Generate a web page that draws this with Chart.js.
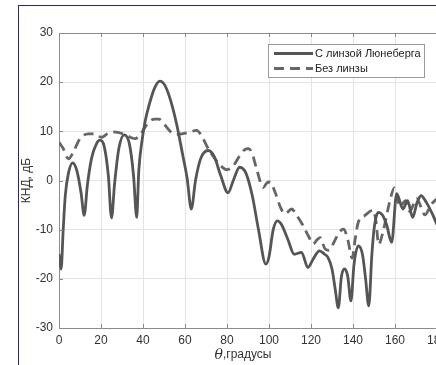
<!DOCTYPE html>
<html>
<head>
<meta charset="utf-8">
<script src="https://cdn.jsdelivr.net/npm/chart.js@4.4.1/dist/chart.umd.min.js"></script>
<style>
    html, body { margin: 0; padding: 0; background: #fff; overflow: hidden; }
    #wrap { position: relative; width: 436px; height: 365px; overflow: hidden; }
    #frame { position: absolute; left: 18px; top: 5px; width: 1000px; height: 1000px; border: 1px solid #26267a; }
    #box { position: absolute; left: 0; top: 0; width: 460px; height: 365px; }
</style>
</head>
<body>
<div id="wrap">
    <div id="frame"></div>
    <div id="box"><canvas id="knd"></canvas></div>
</div>
<script>
'use strict';

// angle, degrees / directivity, dB — with the Luneburg lens
const thetaLens = [0, 1, 2, 3, 4.5, 6.5, 8.5, 10.5, 12, 13.5, 15.5, 18, 19.5, 21.5, 23.5, 25, 26.5, 28.5, 31, 33.5,
    35.5, 37, 38, 39.5, 41, 43, 45.5, 48, 50.5, 53, 56, 59, 61, 63, 65, 67.5, 71, 74, 77, 80.5, 83,
    86, 89, 92, 95, 98.5, 100, 102, 104, 106, 109, 112, 115.5, 118.5, 121, 124, 126.5, 128, 130, 131.5, 133,
    134.5, 136, 137.5, 139, 140.5, 142.5, 144.5, 146, 147.5, 149, 150, 152, 154, 156, 158.4, 160.8, 163.8, 166, 168.4, 170.5,
    172.4, 175, 178, 180];
const kndLens = [-15, -18, -10, -3, 1.5, 3.6, 2, -2.5, -7.1, -1, 4.5, 7.6, 8.2, 7, 1, -7.6, -0.5, 6.5, 9.3, 7.5,
    1, -7.5, 2, 8, 12, 15.5, 18.8, 20.2, 19.3, 16.5, 11.5, 5, 0.5, -5.8, 0, 4.5, 6.1, 4.8, 1, -2.5, 0,
    2.7, 1.5, -3, -10, -17, -15.5, -10, -8.2, -9, -12, -15, -14.6, -17.7, -16, -14.3, -15, -15.6, -18, -22, -25.9,
    -19.5, -18, -19.5, -24.5, -17, -13.3, -15, -20, -25.5, -15, -10, -6.5, -7, -9, -12.6, -2.7, -5.8, -4.1, -7.5, -4.5,
    -3.1, -4.5, -7, -9];

// without the lens
const thetaBare = [0, 2, 4.5, 7, 10, 14, 17, 20.3, 23, 25.5, 28, 31, 34, 36.2, 39, 42, 45.5, 47.5, 50, 53,
    56, 58.5, 62, 65.5, 68, 71, 74.3, 77, 80, 83, 86, 88.5, 90.2, 92, 94, 97.3, 99, 100.5, 103, 105.5,
    107.6, 110.8, 113, 116, 119, 121, 123, 124.3, 126.7, 128.6, 131, 133.5, 135.5, 137.5, 139.6, 141, 142.5, 145.7, 149.7, 151,
    152.2, 154.4, 157.6, 159.7, 162.4, 165, 167, 170.3, 174.3, 177, 180];
const kndBare = [7.8, 6.5, 4.4, 6, 8.5, 9.5, 9.5, 8.8, 9.5, 9.9, 9.8, 9.4, 8.8, 8.5, 9.5, 11.5, 12.5, 12.5, 11.5, 10,
    9.4, 9.5, 9.8, 10.2, 9, 6.5, 4.4, 3, 2.2, 3, 5, 6.3, 6.5, 5.5, 2.5, -1.4, -0.5, -0.3, -2.5, -5.5,
    -6.8, -5.8, -7, -9, -11.5, -12.9, -12, -11.6, -13.9, -14.2, -12.5, -10.5, -9.9, -12, -15.8, -12, -8.5, -7.1, -6, -8.5,
    -13, -10.2, -4.1, -1.5, -5.3, -4.1, -6.3, -3.7, -7, -5, -3.7];

const seriesNames = ['С линзой Люнеберга', 'Без линзы'];
const xTitle = ['θ', ',градусы'];
const yTitle = 'КНД, дБ';

const toPoints = (xs, ys) => xs.map((x, i) => ({ x: x, y: ys[i] }));

// legend box, axes box, inward ticks and the x title
const matlabLook = {
    id: 'matlabLook',
    afterDraw(chart) {
        const { ctx, chartArea: a, scales: { x, y } } = chart;
        ctx.save();
        ctx.strokeStyle = '#8c8c8c';
        ctx.lineWidth = 1;
        ctx.beginPath();
        ctx.moveTo(a.left, a.top + 0.5);
        ctx.lineTo(a.right, a.top + 0.5);
        x.ticks.forEach(t => {
            const px = Math.round(x.getPixelForValue(t.value)) + 0.5;
            ctx.moveTo(px, a.bottom);
            ctx.lineTo(px, a.bottom - 4);
            ctx.moveTo(px, a.top);
            ctx.lineTo(px, a.top + 4);
        });
        y.ticks.forEach(t => {
            const py = Math.round(y.getPixelForValue(t.value)) + 0.5;
            ctx.moveTo(a.left, py);
            ctx.lineTo(a.left + 4, py);
        });
        ctx.stroke();

        // legend
        const lx = 268, ly = 44, lw = 156, lh = 33;
        ctx.fillStyle = '#fff';
        ctx.fillRect(lx, ly, lw, lh);
        ctx.strokeStyle = '#9a9a9a';
        ctx.strokeRect(lx + 0.5, ly + 0.5, lw, lh);
        ctx.font = '11px "Liberation Sans", Arial, sans-serif';
        ctx.textBaseline = 'middle';
        chart.data.datasets.forEach((ds, i) => {
            const ry = ly + 9.5 + i * 15;
            ctx.strokeStyle = ds.borderColor;
            ctx.lineWidth = ds.borderWidth;
            ctx.setLineDash(ds.borderDash || []);
            ctx.beginPath();
            ctx.moveTo(lx + 6, ry);
            ctx.lineTo(lx + 45, ry);
            ctx.stroke();
            ctx.setLineDash([]);
            ctx.fillStyle = '#222';
            ctx.fillText(ds.label, lx + 47, ry);
        });

        // x title with italic theta
        const f1 = 'italic 14px "DejaVu Serif", "Liberation Serif", serif';
        const f2 = '12px "Liberation Sans", Arial, sans-serif';
        ctx.font = f1;
        const w1 = ctx.measureText(xTitle[0]).width;
        ctx.font = f2;
        const w2 = ctx.measureText(xTitle[1]).width;
        let tx = (a.left + a.right) / 2 - 5 - (w1 + w2) / 2;
        const ty = 355;
        ctx.fillStyle = '#333';
        ctx.textAlign = 'left';
        ctx.font = f1;
        ctx.fillText(xTitle[0], tx, ty);
        ctx.font = f2;
        ctx.fillText(xTitle[1], tx + w1, ty);
        ctx.restore();
    }
};

new Chart(document.getElementById('knd'), {
    type: 'line',
    data: {
        datasets: [{
            label: seriesNames[0],
            data: toPoints(thetaLens, kndLens),
            borderColor: '#555555',
            borderWidth: 2.8,
            pointRadius: 0,
            cubicInterpolationMode: 'monotone'
        }, {
            label: seriesNames[1],
            data: toPoints(thetaBare, kndBare),
            borderColor: '#666666',
            borderWidth: 2.8,
            borderDash: [10, 6],
            pointRadius: 0,
            cubicInterpolationMode: 'monotone'
        }]
    },
    options: {
        responsive: true,
        maintainAspectRatio: false,
        animation: false,
        layout: { padding: { left: 0, right: 23, top: 33, bottom: 0 } },
        plugins: { legend: { display: false }, tooltip: { enabled: false } },
        scales: {
            x: {
                type: 'linear',
                min: 0,
                max: 180,
                afterFit: (s) => { s.height = 37; },
                grid: { color: '#e4e4e4', drawTicks: false },
                border: { color: '#8c8c8c' },
                ticks: {
                    stepSize: 20,
                    padding: 5,
                    color: '#333',
                    font: { family: '"Liberation Sans", Arial, sans-serif', size: 12 }
                }
            },
            y: {
                min: -30,
                max: 30,
                afterFit: (s) => { s.width = 59; },
                grid: { color: '#e4e4e4', drawTicks: false },
                border: { color: '#8c8c8c' },
                ticks: {
                    stepSize: 10,
                    padding: 6,
                    color: '#333',
                    font: { family: '"Liberation Sans", Arial, sans-serif', size: 12 }
                },
                title: {
                    display: true,
                    text: yTitle,
                    color: '#333',
                    padding: { top: 19, bottom: 0 },
                    font: { family: '"Liberation Sans", Arial, sans-serif', size: 12 }
                }
            }
        }
    },
    plugins: [matlabLook]
});
</script>
</body>
</html>
